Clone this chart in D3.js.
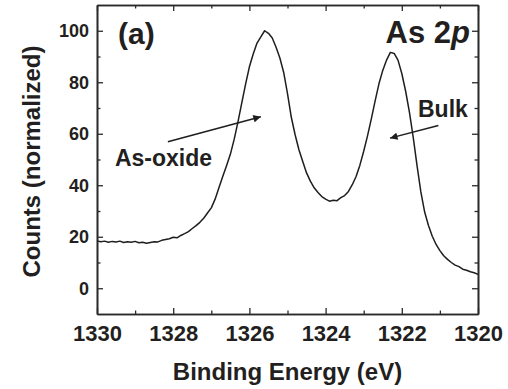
<!DOCTYPE html>
<html>
<head>
<meta charset="utf-8">
<script src="https://cdn.jsdelivr.net/npm/d3@7"></script>
<style>
  html, body { margin: 0; padding: 0; background: #fff; }
  svg { display: block; }
  text { font-family: "Liberation Sans", Arial, Helvetica, sans-serif; font-weight: bold; fill: #231f20; }
</style>
</head>
<body>
<svg id="chart" width="508" height="389"></svg>
<script>
// As 2p core-level spectrum, binding energy (eV) vs normalized counts
const energy = [
  1330.0, 1329.9, 1329.8, 1329.7, 1329.6, 1329.5, 1329.4, 1329.3, 1329.2, 1329.1,
  1329.0, 1328.9, 1328.8, 1328.7, 1328.6, 1328.5, 1328.4, 1328.3, 1328.2, 1328.1,
  1328.0, 1327.9, 1327.8, 1327.7, 1327.6, 1327.5, 1327.4, 1327.3, 1327.2, 1327.1,
  1327.0, 1326.9, 1326.8, 1326.7, 1326.6, 1326.5, 1326.4, 1326.3, 1326.2, 1326.1,
  1326.0, 1325.9, 1325.8, 1325.7, 1325.6, 1325.5, 1325.4, 1325.3, 1325.2, 1325.1,
  1325.0, 1324.9, 1324.8, 1324.7, 1324.6, 1324.5, 1324.4, 1324.3, 1324.2, 1324.1,
  1324.0, 1323.9, 1323.8, 1323.7, 1323.6, 1323.5, 1323.4, 1323.3, 1323.2, 1323.1,
  1323.0, 1322.9, 1322.8, 1322.7, 1322.6, 1322.5, 1322.4, 1322.3, 1322.2, 1322.1,
  1322.0, 1321.9, 1321.8, 1321.7, 1321.6, 1321.5, 1321.4, 1321.3, 1321.2, 1321.1,
  1321.0, 1320.9, 1320.8, 1320.7, 1320.6, 1320.5, 1320.4, 1320.3, 1320.2, 1320.1,
  1320.0
];
const counts = [
  18.4, 18.1, 18.3, 17.9, 18.2, 18.0, 18.3, 17.8, 18.1, 17.9,
  18.2, 17.7, 17.9, 17.5, 17.8, 18.1, 18.0, 18.6, 18.9, 19.2,
  19.8, 19.6, 20.5, 21.2, 22.0, 23.2, 24.3, 25.6, 27.2, 29.2,
  31.2, 34.6, 39.0, 43.4, 47.6, 52.0, 57.8, 64.6, 72.0, 79.3,
  86.0, 91.0, 95.2, 97.6, 100.0, 99.0, 97.2, 93.6, 89.4, 83.8,
  75.6, 66.4, 59.6, 53.8, 49.2, 44.8, 41.6, 39.0, 37.2, 35.6,
  34.6, 33.8, 34.2, 34.0, 35.2, 36.0, 37.6, 40.2, 43.4, 47.8,
  53.2, 59.2, 65.8, 72.8, 79.4, 84.6, 88.6, 91.6, 91.2, 88.6,
  83.4, 76.6, 68.4, 58.6, 47.6, 37.4, 29.6, 24.4, 20.2, 17.0,
  14.6, 12.6, 11.2, 10.0, 9.0, 8.4, 7.4, 7.0, 6.4, 6.0,
  5.4
];

// Axis ticks
const xMajorTicks = [1330, 1328, 1326, 1324, 1322, 1320];
const xMinorTicks = [1329, 1327, 1325, 1323, 1321];
const yMajorTicks = [0, 20, 40, 60, 80, 100];
const yMinorTicks = [10, 30, 50, 70, 90];

// Text labels (data coordinates)
const panelLabel = { text: "(a)", e: 1329.45, v: 94.9 };
const coreLevelLabel = { main: "As 2", italic: "p", e: 1320.21, v: 95.2 };
const peakLabels = [
  { text: "As-oxide", e: 1329.53, v: 47.5 },
  { text: "Bulk", e: 1321.575, v: 66.5 }
];
// Arrows from label to peak: [tail energy, tail counts, tip energy, tip counts]
const arrows = [
  [1328.14, 56.9, 1325.70, 66.6],
  [1321.04, 63.2, 1322.31, 58.3]
];

const xTitle = "Binding Energy (eV)";
const yTitle = "Counts (normalized)";

const svg = d3.select("#chart");
const W = 508, H = 389;
const margin = { left: 97, right: W - 478, top: 5, bottom: H - 314 };

const x = d3.scaleLinear().domain([1330, 1320]).range([margin.left, W - margin.right]);
const y = d3.scaleLinear().domain([-10, 110]).range([H - margin.bottom, margin.top]);

const ink = "#2a2a2a";
const majorLen = 6, minorLen = 3.5;

function styleAxis(g) {
  g.selectAll("path.domain").attr("stroke", ink).attr("stroke-width", 1.6);
  g.selectAll(".tick line").attr("stroke", ink).attr("stroke-width", 1.3);
  g.selectAll(".tick text").attr("fill", "#231f20");
  g.attr("font-family", null).attr("font-size", null);
}

// Bottom axis (labels)
const gx = svg.append("g").attr("transform", `translate(0,${y.range()[0]})`)
  .call(d3.axisBottom(x).tickValues(xMajorTicks).tickFormat(d3.format("d"))
    .tickSizeInner(-majorLen).tickSizeOuter(0).tickPadding(11));
styleAxis(gx);
gx.selectAll(".tick text").style("font-size", "22px");
svg.append("g").attr("transform", `translate(0,${y.range()[0]})`)
  .call(d3.axisBottom(x).tickValues(xMinorTicks).tickFormat("")
    .tickSizeInner(-minorLen).tickSizeOuter(0))
  .call(styleAxis);

// Top axis (ticks only)
svg.append("g").attr("transform", `translate(0,${y.range()[1]})`)
  .call(d3.axisTop(x).tickValues(xMajorTicks).tickFormat("")
    .tickSizeInner(-majorLen).tickSizeOuter(0))
  .call(styleAxis);
svg.append("g").attr("transform", `translate(0,${y.range()[1]})`)
  .call(d3.axisTop(x).tickValues(xMinorTicks).tickFormat("")
    .tickSizeInner(-minorLen).tickSizeOuter(0))
  .call(styleAxis);

// Left axis (labels)
const gy = svg.append("g").attr("transform", `translate(${x.range()[0]},0)`)
  .call(d3.axisLeft(y).tickValues(yMajorTicks).tickFormat(d3.format("d"))
    .tickSizeInner(-majorLen).tickSizeOuter(0).tickPadding(8));
styleAxis(gy);
gy.selectAll(".tick text").style("font-size", "18px");
svg.append("g").attr("transform", `translate(${x.range()[0]},0)`)
  .call(d3.axisLeft(y).tickValues(yMinorTicks).tickFormat("")
    .tickSizeInner(-minorLen).tickSizeOuter(0))
  .call(styleAxis);

// Right axis (ticks only)
svg.append("g").attr("transform", `translate(${x.range()[1]},0)`)
  .call(d3.axisRight(y).tickValues(yMajorTicks).tickFormat("")
    .tickSizeInner(-majorLen).tickSizeOuter(0))
  .call(styleAxis);
svg.append("g").attr("transform", `translate(${x.range()[1]},0)`)
  .call(d3.axisRight(y).tickValues(yMinorTicks).tickFormat("")
    .tickSizeInner(-minorLen).tickSizeOuter(0))
  .call(styleAxis);

// Spectrum
const pts = energy.map((e, i) => [e, counts[i]]);
svg.append("path")
  .datum(pts)
  .attr("fill", "none")
  .attr("stroke", "#1e1e1e")
  .attr("stroke-width", 1.5)
  .attr("stroke-linejoin", "round")
  .attr("d", d3.line().x(d => x(d[0])).y(d => y(d[1])));

// Arrowhead marker
svg.append("defs").append("marker")
  .attr("id", "head")
  .attr("viewBox", "0 0 10 10")
  .attr("refX", 10).attr("refY", 5)
  .attr("markerWidth", 6).attr("markerHeight", 5)
  .attr("markerUnits", "strokeWidth")
  .attr("orient", "auto")
  .append("path").attr("d", "M0,0 L10,5 L0,10 Z").attr("fill", "#1e1e1e");

svg.selectAll("line.arrow")
  .data(arrows)
  .enter().append("line")
  .attr("class", "arrow")
  .attr("x1", d => x(d[0])).attr("y1", d => y(d[1]))
  .attr("x2", d => x(d[2])).attr("y2", d => y(d[3]))
  .attr("stroke", "#1e1e1e").attr("stroke-width", 1.5)
  .attr("marker-end", "url(#head)");

// Peak labels
svg.selectAll("text.peak")
  .data(peakLabels)
  .enter().append("text")
  .attr("class", "peak")
  .attr("x", d => x(d.e)).attr("y", d => y(d.v))
  .style("font-size", "23px")
  .text(d => d.text);

// Panel label
svg.append("text")
  .attr("x", x(panelLabel.e)).attr("y", y(panelLabel.v))
  .style("font-size", "30px")
  .text(panelLabel.text);

// Core-level label with italic orbital letter
const cl = svg.append("text")
  .attr("x", x(coreLevelLabel.e)).attr("y", y(coreLevelLabel.v))
  .attr("text-anchor", "end")
  .style("font-size", "31px");
cl.append("tspan").text(coreLevelLabel.main);
cl.append("tspan").style("font-style", "italic").text(coreLevelLabel.italic);

// Axis titles
svg.append("text")
  .attr("x", (x.range()[0] + x.range()[1]) / 2).attr("y", 380)
  .attr("text-anchor", "middle")
  .style("font-size", "24px")
  .text(xTitle);

svg.append("text")
  .attr("transform", `translate(40,${(y.range()[0] + y.range()[1]) / 2 + 2}) rotate(-90)`)
  .attr("text-anchor", "middle")
  .style("font-size", "24px")
  .text(yTitle);
</script>
</body>
</html>
